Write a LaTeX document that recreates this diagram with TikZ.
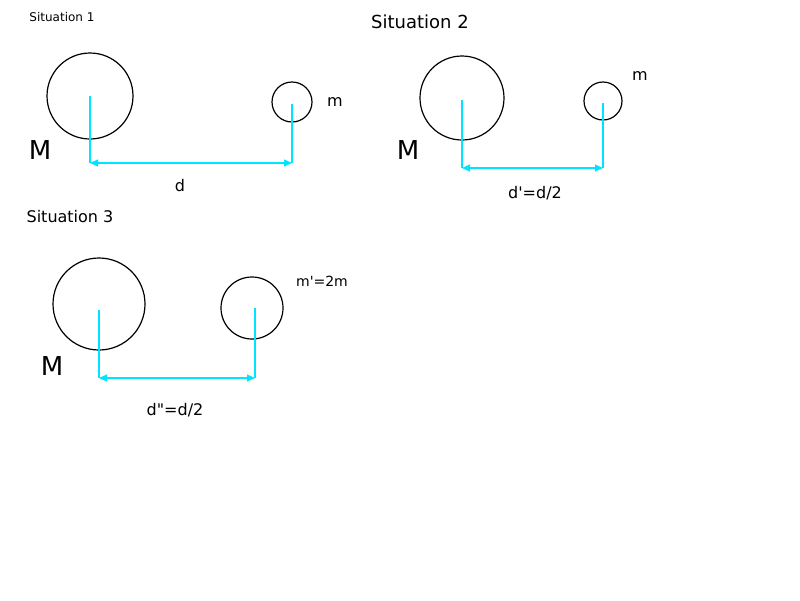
\documentclass[tikz,border=0pt]{standalone}
\usepackage{fontspec}
\setmainfont{DejaVu Sans}
\usetikzlibrary{arrows.meta}
\definecolor{aqua}{RGB}{0,228,255}
\begin{document}
\begin{tikzpicture}[x=1pt,y=-1pt,
  body/.style={draw=black,line width=1.2pt,circle,inner sep=0pt},
  guide/.style={draw=aqua,line width=1.1pt},
  dim/.style={draw=aqua,line width=1.1pt,{Triangle[length=8pt,width=7pt]}-{Triangle[length=8pt,width=7pt]}},
  lbl/.style={font=\fontsize{16}{16}\selectfont},
  big/.style={font=\fontsize{26}{26}\selectfont}]
\useasboundingbox (0,0) rectangle (800,600);
% Situation 1
\node[font=\fontsize{12}{12}\selectfont] (t1) at (62,17) {Situation 1};
\node[body,minimum size=86pt] (M1) at (90,96) {};
\node[body,minimum size=40pt] (m1) at (292,102) {};
\coordinate (a1) at (90,96); \coordinate (a1b) at (90,163);
\coordinate (b1) at (292,104); \coordinate (b1b) at (292,163);
\draw[guide] (a1) -- (a1b); \draw[guide] (b1) -- (b1b);
\draw[dim] (a1b) -- (b1b);
\node[lbl] (d1) at (180,186) {d};
\node[big] (Ml1) at (40,150) {M};
\node[lbl] (ml1) at (335,102) {m};
% Situation 2
\node[font=\fontsize{18}{18}\selectfont] (t2) at (420,22) {Situation 2};
\node[body,minimum size=84pt] (M2) at (462,98) {};
\node[body,minimum size=38pt] (m2) at (603,101) {};
\coordinate (a2) at (462,100); \coordinate (a2b) at (462,168);
\coordinate (b2) at (603,103); \coordinate (b2b) at (603,168);
\draw[guide] (a2) -- (a2b); \draw[guide] (b2) -- (b2b);
\draw[dim] (a2b) -- (b2b);
\node[lbl] (d2) at (535,193) {d\textquotesingle=d/2};
\node[big] (Ml2) at (408,150) {M};
\node[lbl] (ml2) at (640,76) {m};
% Situation 3
\node[font=\fontsize{16}{16}\selectfont] (t3) at (70,217) {Situation 3};
\node[body,minimum size=92pt] (M3) at (99,304) {};
\node[body,minimum size=62pt] (m3) at (252,308) {};
\coordinate (a3) at (99,310); \coordinate (a3b) at (99,378);
\coordinate (b3) at (255,308); \coordinate (b3b) at (255,378);
\draw[guide] (a3) -- (a3b); \draw[guide] (b3) -- (b3b);
\draw[dim] (a3b) -- (b3b);
\node[lbl] (d3) at (175,410) {d\textquotedbl=d/2};
\node[big] (Ml3) at (52,366) {M};
\node[font=\fontsize{14}{14}\selectfont] (ml3) at (322,281) {m\textquotesingle=2m};
\end{tikzpicture}
\end{document}
